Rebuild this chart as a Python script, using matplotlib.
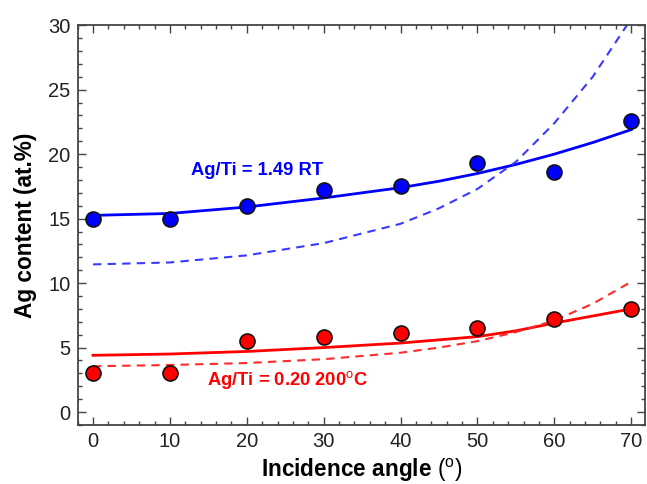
import numpy as np
import matplotlib
matplotlib.use("Agg")
import matplotlib.pyplot as plt
from matplotlib.ticker import MultipleLocator

plt.rcParams['font.family'] = ['Liberation Sans', 'DejaVu Sans']
plt.rcParams['mathtext.fontset'] = 'custom'
plt.rcParams['mathtext.rm'] = 'Liberation Sans'

# measured points
angle = [0, 10, 20, 30, 40, 50, 60, 70]
ag_rt = [15.0, 15.0, 16.0, 17.2, 17.5, 19.3, 18.6, 22.6]
ag_200 = [3.0, 3.0, 5.5, 5.8, 6.1, 6.5, 7.2, 8.0]

# fitted (solid) and simulated (dashed) curves
curve_angle = [0, 10, 20, 30, 40, 45, 50, 55, 60, 65, 70]
fit_rt = [15.25, 15.4, 15.9, 16.6, 17.4, 17.9, 18.5, 19.2, 20.0, 20.9, 21.9]
sim_rt = [11.45, 11.6, 12.15, 13.1, 14.6, 15.8, 17.3, 19.4, 22.4, 26.0, 30.5]
fit_200 = [4.4, 4.5, 4.7, 5.0, 5.35, 5.6, 5.85, 6.3, 6.9, 7.45, 8.0]
sim_200 = [3.55, 3.65, 3.8, 4.1, 4.6, 5.0, 5.5, 6.2, 7.1, 8.4, 10.1]

fig, ax = plt.subplots(figsize=(6.47, 4.84), dpi=100)
fig.subplots_adjust(left=0.12, right=0.997, top=0.948, bottom=0.122)

ax.plot(curve_angle, fit_rt, color='#0000ff', lw=2)
ax.plot(curve_angle, sim_rt, color='#3a3aff', lw=1.5, ls=(0, (4, 3)))
ax.plot(curve_angle, fit_200, color='#ff0000', lw=2)
ax.plot(curve_angle, sim_200, color='#ff2a2a', lw=1.5, ls=(0, (4, 3)))

ax.plot(angle, ag_rt, 'o', ms=10.8, mfc='#0000ff', mec='#111111', mew=1.2)
ax.plot(angle, ag_200, 'o', ms=10.8, mfc='#ff0000', mec='#111111', mew=1.2)

ax.text(12.8, 18.7, 'Ag/Ti = 1.49 RT', color='#0000ff', fontsize=13.2,
        fontweight='bold', va='center')
ax.text(14.8, 2.45, 'Ag/Ti = 0.20 200$^{\\rm o}$C', color='#ff0000', fontsize=13.2,
        fontweight='bold', va='center')

ax.set_xlim(-2, 71.8)
ax.set_ylim(-1, 30)
ax.xaxis.set_major_locator(MultipleLocator(10))
ax.xaxis.set_minor_locator(MultipleLocator(2))
ax.yaxis.set_major_locator(MultipleLocator(5))
ax.yaxis.set_minor_locator(MultipleLocator(1))
ax.tick_params(which='both', direction='in', top=True, right=True,
               labelsize=14.5, color='#444444', labelcolor='#222222')
ax.tick_params(which='major', length=6, width=1, pad=5)
ax.tick_params(which='minor', length=3, width=1)
for s in ax.spines.values():
    s.set_linewidth(1.3)
    s.set_color('#444444')

ax.set_xlabel('Incidence angle $(^{\\rm o})$', fontsize=16.3, fontweight='bold', labelpad=4)
ax.set_ylabel('Ag content (at.%)', fontsize=16.3, fontweight='bold', labelpad=8)

plt.savefig('out.png', dpi=100)
